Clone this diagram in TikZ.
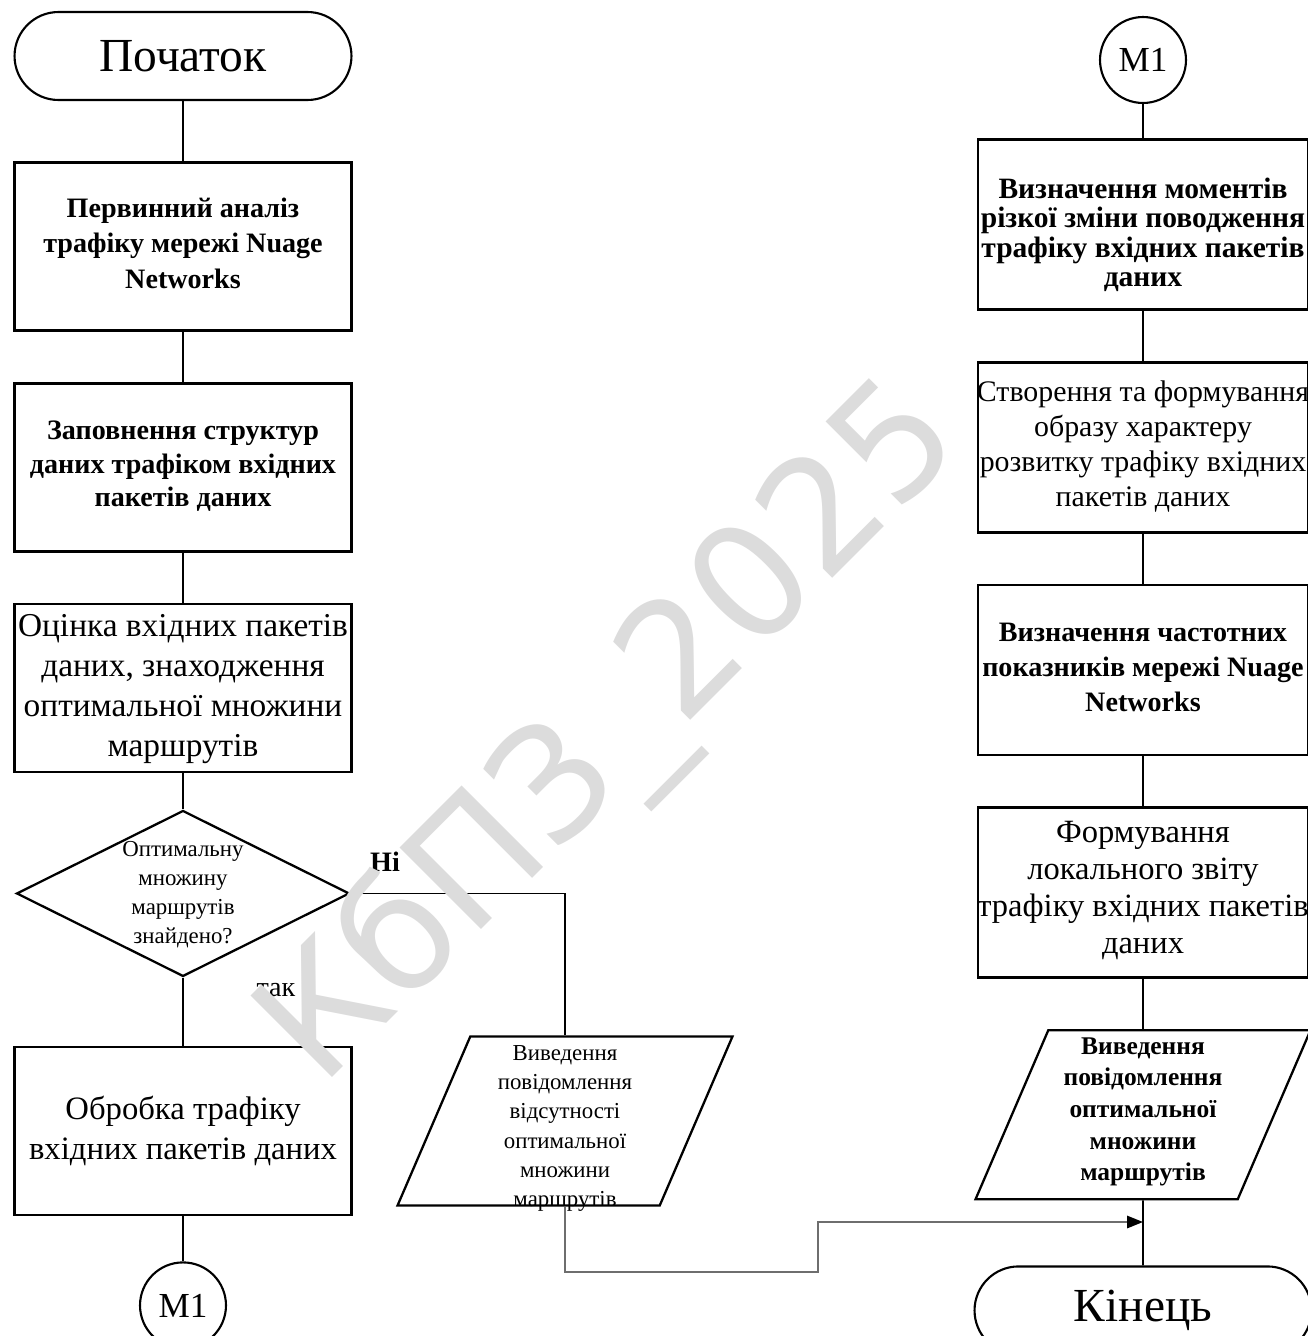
\documentclass[tikz,border=0pt]{standalone}
\usepackage{fontspec}
\setmainfont{Liberation Serif}
\newfontfamily\marksans{DejaVu Sans}
\usepackage{tikz}
\usetikzlibrary{shapes.geometric, shapes.misc, arrows.meta, positioning, calc}
\definecolor{markgray}{RGB}{220,220,220}
\definecolor{linkgray}{RGB}{110,110,110}
% text of a box, taking no room; optional arg lowers it
\newcommand{\boxtext}[2][0pt]{\smash{\makebox[0pt]{\raisebox{\dimexpr-.25em-#1\relax}{\begin{tabular}{@{}c@{}}#2\end{tabular}}}}}
\tikzset{
  terminal/.style={
    rounded rectangle, draw, line width=1.2pt,
    minimum width=6.74cm, minimum height=1.76cm, inner sep=0pt,
    font=\fontsize{27}{30}\selectfont
  },
  block/.style={
    rectangle, draw, line width=1.6pt,
    minimum width=6.74cm, minimum height=3.36cm, inner sep=0pt
  },
  rblock/.style={block, minimum width=6.6cm, minimum height=3.4cm},
  decision/.style={
    diamond, aspect=2, draw, line width=1.3pt,
    minimum width=6.66cm, minimum height=3.32cm, inner sep=0pt
  },
  iobox/.style={
    trapezium, trapezium left angle=69, trapezium right angle=111,
    trapezium stretches=true, draw, line width=1.3pt,
    minimum width=6.7cm, minimum height=3.38cm, inner sep=2pt
  },
  connector/.style={
    circle, draw, line width=1.2pt, minimum size=1.72cm, inner sep=0pt,
    font=\fontsize{20}{22}\selectfont
  },
  link/.style={line width=1pt},
  arrow/.style={-{Triangle[length=9pt, width=7pt, color=black]}, line width=1pt, color=linkgray},
}

\begin{document}
\begin{tikzpicture}[x=0.02cm, y=-0.02cm, node distance=1cm]
  \useasboundingbox (0,0) rectangle (1308,1336);

  % left column
  \node[terminal] (start) at (183,56) {Початок};
  \node[block, below=1.2cm of start, font=\fontsize{16}{20}\selectfont\bfseries] (analysis)
    {\boxtext{Первинний аналіз\\трафіку мережі Nuage\\Networks}};
  \node[block, below=of analysis, font=\fontsize{16}{19}\selectfont\bfseries] (fill)
    {\boxtext{Заповнення структур\\даних трафіком вхідних\\пакетів даних}};
  \node[block, below=of fill, font=\fontsize{19}{22.7}\selectfont] (estimate)
    {\boxtext{Оцінка вхідних пакетів\\даних, знаходження\\оптимальної множини\\маршрутів}};
  \node[decision, below=0.72cm of estimate, font=\fontsize{13}{16.5}\selectfont] (found)
    {\boxtext{Оптимальну\\множину\\маршрутів\\знайдено?}};
  \node[block, below=1.36cm of found, font=\fontsize{18.6}{22.7}\selectfont] (process)
    {\boxtext{Обробка трафіку\\вхідних пакетів даних}};
  \node[connector, below=0.9cm of process] (m1a) {M1};

  \node[font=\fontsize{16}{18}\selectfont\bfseries] (nolbl) at (385,862) {Ні};
  \node[font=\fontsize{16}{18}\selectfont] (yeslbl) at (276,990) {так};

  \node[iobox, font=\fontsize{13}{16.7}\selectfont] (msgnone) at (565,1121)
    {\boxtext[3.5pt]{Виведення\\повідомлення\\відсутності\\оптимальної\\множини\\маршрутів}};

  % right column
  \node[connector] (m1b) at (1143,60) {M1};
  \node[rblock, below=0.68cm of m1b, font=\fontsize{16.8}{16.5}\selectfont\bfseries] (moments)
    {\boxtext[7pt]{Визначення моментів\\різкої зміни поводження\\трафіку вхідних пакетів\\даних}};
  \node[rblock, below=of moments, font=\fontsize{17}{20}\selectfont] (image)
    {\boxtext{Створення та формування\\образу характеру\\розвитку трафіку вхідних\\пакетів даних}};
  \node[rblock, below=of image, font=\fontsize{16}{20}\selectfont\bfseries] (freq)
    {\boxtext{Визначення частотних\\показників мережі Nuage\\Networks}};
  \node[rblock, below=of freq, font=\fontsize{18.5}{21}\selectfont] (report)
    {\boxtext[-1.5pt]{Формування\\локального звіту\\трафіку вхідних пакетів\\даних}};
  \node[iobox, below=of report, font=\fontsize{14.5}{18}\selectfont\bfseries] (msgok)
    {\boxtext[-2pt]{Виведення\\повідомлення\\оптимальної\\множини\\маршрутів}};
  \node[terminal, below=1.3cm of msgok] (finish) {Кінець};
  \coordinate (join) at (msgok.south |- 0,1222);

  \draw[link] (start) -- (analysis);
  \draw[link] (analysis) -- (fill);
  \draw[link] (fill) -- (estimate);
  \draw[link] (estimate) -- (found);
  \draw[link] (found) -- (process);
  \draw[link] (process) -- (m1a);
  \draw[link] (found.east) -| (msgnone.north);

  \draw[link] (m1b) -- (moments);
  \draw[link] (moments) -- (image);
  \draw[link] (image) -- (freq);
  \draw[link] (freq) -- (report);
  \draw[link] (report) -- (msgok);
  \draw[link] (msgok) -- (finish);
  \draw[arrow] (msgnone.south) |- (818,1272) |- (join);

  % watermark
  \node[rotate=45, text=markgray, font=\marksans\fontsize{90}{90}\selectfont] (stamp) at (614,736) {КбПЗ\_2025};
\end{tikzpicture}
\end{document}
